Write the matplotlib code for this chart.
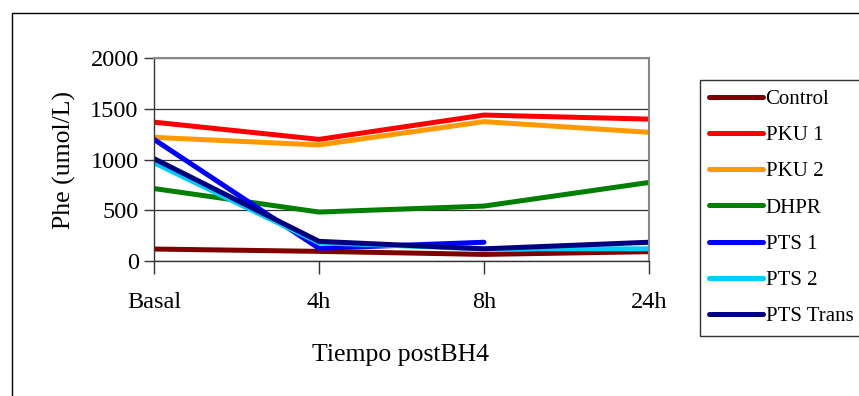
import matplotlib
matplotlib.use('Agg')
import matplotlib.pyplot as plt
from matplotlib.patches import Rectangle

# Data
categories = ['Basal', '4h', '8h', '24h']
control = [118, 95, 65, 92]
pku1 = [1370, 1200, 1440, 1400]
pku2 = [1220, 1145, 1375, 1270]
dhpr = [715, 483, 542, 775]
pts1 = [1200, 125, 185, None]
pts2 = [970, 180, 120, 120]
pts_trans = [1010, 194, 120, 185]

series = [
    ('Control', control, '#800000'),
    ('PKU 1', pku1, '#ff0000'),
    ('PKU 2', pku2, '#ff9900'),
    ('DHPR', dhpr, '#008000'),
    ('PTS 1', pts1, '#0000ff'),
    ('PTS 2', pts2, '#00ccff'),
    ('PTS Trans', pts_trans, '#000080'),
]

plt.rcParams['font.family'] = ['Liberation Serif', 'DejaVu Serif']

W, H = 859, 396
fig = plt.figure(figsize=(W / 100, H / 100), dpi=100)
fig.patch.set_facecolor('white')

# outer frame (cropped on the right and bottom)
fig.patches.append(Rectangle((12 / W, -0.1), 1.2, (H - 13) / H + 0.1,
                             transform=fig.transFigure, fill=False,
                             edgecolor='black', linewidth=1.0))

ax = fig.add_axes([154 / W, (H - 261) / H, 495 / W, 202.7 / H])

x = list(range(len(categories)))
for name, vals, col in series:
    xs = [i for i, v in zip(x, vals) if v is not None]
    ys = [v for v in vals if v is not None]
    ax.plot(xs, ys, color=col, linewidth=3.6, label=name,
            solid_capstyle='round', solid_joinstyle='round')

ax.set_xlim(0, 3)
ax.set_ylim(0, 2000)
ax.set_yticks([0, 500, 1000, 1500, 2000])
ax.set_xticks(x)
ax.set_xticklabels(categories)
ax.yaxis.grid(True, color='#333333', linewidth=0.9)
ax.set_axisbelow(True)

for side in ['top', 'right']:
    ax.spines[side].set_color('#888888')
    ax.spines[side].set_linewidth(1.5)
for side in ['left', 'bottom']:
    ax.spines[side].set_color('#333333')
    ax.spines[side].set_linewidth(1.0)

ax.tick_params(axis='y', direction='out', length=7, width=1, labelsize=17.5,
               pad=4, colors='#333333', labelcolor='black')
ax.tick_params(axis='x', direction='out', length=9, width=1, labelsize=17.5,
               pad=13, colors='#333333', labelcolor='black')

ax.set_ylabel('Phe (umol/L)', fontsize=18.5, labelpad=10)
fig.text(400 / W, (H - 355) / H, 'Tiempo postBH4', fontsize=18.5,
         ha='center', va='center')

leg = fig.legend(loc='upper left', bbox_to_anchor=(700 / W, (H - 80) / H),
                 frameon=True, fancybox=False, fontsize=15, handlelength=2.55,
                 handletextpad=0.15, labelspacing=0.8, borderaxespad=0,
                 borderpad=0.45)
leg.get_frame().set_edgecolor('black')
leg.get_frame().set_linewidth(1.0)

fig.savefig('out.png', dpi=100, facecolor='white')
